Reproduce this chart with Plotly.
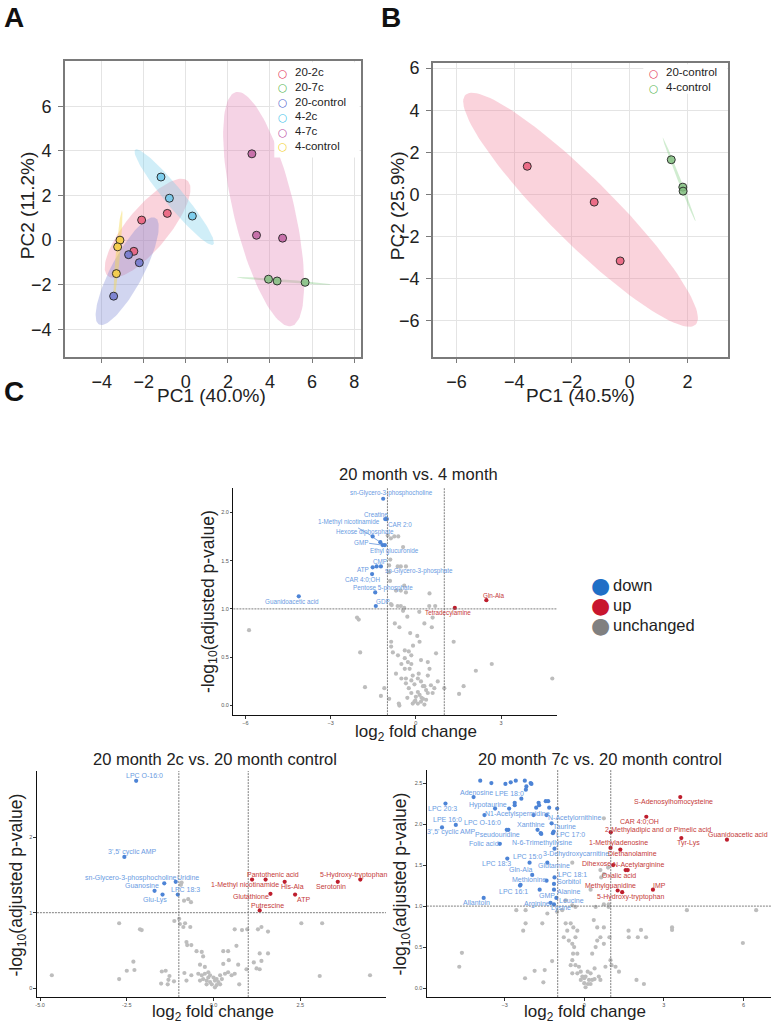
import numpy as np
import plotly.graph_objects as go

W, H = 772, 1025
FONT = "Liberation Sans, Arial, sans-serif"

# ---------------- panel A: PCA scores, six groups ----------------
a_groups = ["20-2c", "20-7c", "20-control", "4-2c", "4-7c", "4-control"]
a_pc1_20_2c = [-2.10, -0.88, -2.47]
a_pc2_20_2c = [0.90, 1.20, -0.50]
a_pc1_20_7c = [3.93, 4.34, 5.67]
a_pc2_20_7c = [-1.75, -1.83, -1.89]
a_pc1_20_ctrl = [-2.72, -2.21, -3.43]
a_pc2_20_ctrl = [-0.65, -1.01, -2.51]
a_pc1_4_2c = [-1.18, -0.78, 0.31]
a_pc2_4_2c = [2.83, 1.88, 1.08]
a_pc1_4_7c = [3.14, 3.36, 4.60]
a_pc2_4_7c = [3.87, 0.22, 0.09]
a_pc1_4_ctrl = [-3.13, -3.24, -3.30]
a_pc2_4_ctrl = [0.00, -0.30, -1.50]

# ---------------- panel B: PCA scores, controls only ----------------
b_groups = ["20-control", "4-control"]
b_pc1_20_ctrl = [-3.55, -1.23, -0.33]
b_pc2_20_ctrl = [1.34, -0.36, -3.15]
b_pc1_4_ctrl = [1.44, 1.84, 1.85]
b_pc2_4_ctrl = [1.65, 0.35, 0.16]

# ---------------- panel C1: 20 month vs. 4 month ----------------
v1_down_names = ["sn-Glycero-3-phosphocholine", "Creatine", "CAR 2:0", "1-Methyl nicotinamide",
                 "Hexose diphosphate", "GMP", "Ethyl glucuronide", "ATP", "CMP",
                 "sn-Glycero-3-phosphate", "CAR 4:0;OH", "Pentose 5-phosphate", "GDP",
                 "Guanidoacetic acid"]
v1_down_fc = [-1.15, -1.08, -1.02, -1.52, -1.25, -1.17, -1.09, -1.52, -1.38, -1.23, -1.54, -1.43, -1.41, -4.12]
v1_down_p = [2.14, 1.93, 1.93, 1.75, 1.69, 1.66, 1.66, 1.43, 1.44, 1.44, 1.36, 1.17, 1.03, 1.13]
v1_up_names = ["Tetradecylamine", "Gln-Ala"]
v1_up_fc = [1.37, 2.48]
v1_up_p = [1.01, 1.09]
v1_ns_fc = [-5.87, -2.07, -2.01, -1.96, -1.79, -1.23, -1.11, -0.94, -0.85, -0.74, -0.58,
            -0.87, -0.81, -0.63, -0.51, -0.39, -0.28, -0.16, -0.22, -0.11, -0.35, -0.16, 0.07,
            0.13, 0.18, 0.30, 0.36, 0.42, 0.53, 0.65, 0.59, 0.77, 0.71, 0.56, 0.59, 1.00, 1.33,
            1.52, 1.68, -0.05, 0.07, 0.18, 0.30, 0.00, 0.13, 0.25, -0.11, 0.36, 0.07, -0.16,
            -0.25, -0.35, -0.51, -0.60, -0.58, -0.87, -0.39, -0.25, -0.39, -0.16, 0.18, 0.42,
            0.48, -0.05, 0.25, 0.42, -0.99, -0.88, -0.76, -0.62, -0.45, -0.90, -0.94, -0.64,
            -0.53, -0.35, -0.94, -0.91, -0.41, -0.53, -0.70, -0.35, 0.48, -0.88, -0.64, -0.53,
            -0.41, 0.47, 0.68, 2.11, 2.67, 4.80, -0.30, -0.20, 0.05, -0.45, 0.30, 0.12, -0.10,
            -0.70, -0.02, 0.20, -0.30, 0.10]
v1_ns_p = [0.78, 0.91, 0.89, 0.55, 0.19, 0.10, 0.18, 0.07, 1.04, 0.85, 0.81,
           0.66, 0.55, 0.52, 0.43, 0.38, 0.45, 0.43, 0.38, 0.31, 0.28, 0.26, 0.28,
           0.66, 0.25, 0.20, 0.16, 0.31, 0.21, 0.18, 0.13, 0.25, 0.54, 0.81, 0.91, 0.18, 0.66,
           0.12, 0.20, 0.04, 0.02, 0.04, 0.01, 0.09, 0.11, 0.07, 0.02, 0.06, 0.14, 0.13,
           0.18, 0.23, 0.28, 0.02, 0.00, 0.61, 0.57, 0.56, 0.49, 0.52, 0.47, 0.45,
           0.38, 0.22, 0.20, 0.13, 1.76, 1.73, 1.75, 1.75, 1.64, 1.51, 1.45, 1.44,
           1.44, 1.44, 1.38, 1.29, 1.24, 1.19, 1.19, 1.17, 1.16, 1.05, 1.03, 1.03,
           1.01, 1.03, 1.03, 0.36, 0.43, 0.28, 0.92, 0.75, 0.72, 0.98, 0.85, 0.97, 0.62,
           0.33, 0.05, 0.08, 0.08, 0.33]

# ---------------- panel C2: 20 month 2c vs. 20 month control ----------------
v2_down_names = ["LPC O-16:0", "3',5' cyclic AMP", "sn-Glycero-3-phosphocholine", "Uridine",
                 "Guanosine", "LPC 18:3", "Glu-Lys"]
v2_down_fc = [-2.23, -2.57, -1.42, -1.09, -1.70, -1.03, -1.47]
v2_down_p = [2.75, 1.74, 1.39, 1.41, 1.29, 1.24, 1.24]
v2_up_names = ["Pantothenic acid", "1-Methyl nicotinamide", "His-Ala", "Glutathione", "ATP",
               "Putrescine", "5-Hydroxy-tryptophan", "Serotonin"]
v2_up_fc = [1.50, 1.11, 2.05, 1.64, 2.35, 1.33, 4.23, 3.58]
v2_up_p = [1.44, 1.44, 1.41, 1.25, 1.24, 1.03, 1.44, 1.41]
v2_ns_fc = [-4.66, -2.72, -2.72, -2.31, -2.50, -2.28, -2.12, -2.07, -1.49, -1.38, -1.51,
            -1.30, -1.32, -1.14, -1.27, -1.13, -0.99, -0.97, -0.87, -0.82, -0.67, -0.92, -0.94,
            -0.85, -0.73, -0.65, -0.78, -0.76, -0.64, -0.49, -0.34, -0.30, -0.39, -0.25, -0.15,
            0.04, 0.28, 0.42, 0.28, 0.44, 0.66, 0.71, 0.61, 0.82, 0.97, 0.74, 1.28, 1.38, 1.57,
            1.33, 1.57, 1.38, 1.16, 1.24, 0.95, 1.33, 2.53, 3.13, 3.06, 4.51, -0.30, -0.20,
            -0.10, -0.05, 0.09, 0.14, 0.24, 0.00, -0.15, -0.34, -0.44, 0.19, 0.33, 0.42, -0.25,
            0.09, -0.10, -0.20, 0.04, 0.19, -0.39, -0.64, -0.84, -0.78, 0.52, 0.61]
v2_ns_p = [0.17, 0.86, 0.12, 0.35, 0.23, 0.24, 0.78, 0.77, 0.22, 0.23, 0.06,
           0.11, 0.05, 0.09, 0.16, 0.89, 0.92, 0.85, 0.81, 0.86, 0.81, 1.40, 1.37,
           1.16, 1.18, 1.14, 0.61, 0.57, 0.57, 0.49, 0.48, 0.42, 0.31, 0.28, 0.21,
           0.10, 0.32, 0.49, 0.49, 0.37, 0.56, 0.31, 0.78, 0.77, 0.78, 0.05, 0.78, 0.81, 0.75,
           0.46, 0.46, 0.36, 0.34, 0.26, 0.25, 0.25, 0.86, 0.86, 0.16, 0.17, 0.12, 0.10,
           0.08, 0.05, 0.04, 0.08, 0.12, 0.14, 0.14, 0.17, 0.19, 0.17, 0.19, 0.21, 0.19,
           0.12, 0.17, 0.05, 0.01, 0.05, 0.10, 0.17, 0.20, 0.10, 0.17, 0.19]

# ---------------- panel C3: 20 month 7c vs. 20 month control ----------------
v3_down_names = ["Adenosine", "LPE 18:0", "LPC 20:3", "Hypotaurine", "N1-Acetylspermidine",
                 "LPE 16:0", "LPC O-16:0", "3',5' cyclic AMP", "Xanthine", "N-Acetylornithine",
                 "Taurine", "Pseudouridine", "LPC 17:0", "Folic acid", "N-6-Trimethyllysine",
                 "3-Dehydroxycarnitine", "LPC 15:0", "LPC 18:3", "Glutamine", "Gln-Ala",
                 "LPC 18:1", "Methionine", "Sorbitol", "LPC 16:1", "Alanine", "GMP", "Leucine",
                 "Allantoin", "Arginine", "Lysine"]
v3_down_fc = [-4.17, -2.37, -5.23, -3.36, -2.83, -4.84, -3.76, -5.36, -1.76, -1.42,
              -1.23, -2.92, -1.15, -3.18, -1.64, -1.12, -2.06, -2.90, -1.39, -1.96,
              -1.12, -1.42, -1.14, -2.42, -1.14, -1.68, -1.05, -3.79, -1.27, -1.14]
v3_down_p = [2.33, 2.31, 2.25, 2.19, 2.19, 1.99, 2.11, 1.96, 1.93, 2.11,
             2.01, 1.93, 1.91, 1.76, 1.89, 1.70, 1.53, 1.58, 1.53, 1.38,
             1.35, 1.31, 1.27, 1.25, 1.20, 1.20, 1.10, 1.10, 1.04, 1.02]
v3_down_more_fc = [-3.92, -3.50, -2.97, -2.77, -2.58, -2.24, -2.18, -2.20, -2.02, -1.99,
                   -2.62, -2.62, -1.72, -1.70, -1.81, -1.45, -1.36, -1.32, -1.02, -1.91,
                   -2.86, -1.62, -1.18, -2.40]
v3_down_more_p = [2.53, 2.50, 2.49, 2.51, 2.53, 2.53, 2.46, 2.42, 2.50, 2.49,
                  2.26, 2.23, 2.26, 2.23, 2.20, 2.28, 2.28, 2.20, 2.19, 2.11,
                  1.93, 1.88, 1.89, 1.26]
v3_up_names = ["S-Adenosylhomocysteine", "CAR 4:0;OH", "2-Methyladipic and or Pimelic acid",
               "Guanidoacetic acid", "Tyr-Lys", "1-Methyladenosine", "Diethanolamine", "Dihexose",
               "N-Acetylarginine", "Oxalic acid", "Methylguanidine", "5-Hydroxy-tryptophan", "IMP"]
v3_up_fc = [3.62, 2.34, 1.00, 5.38, 3.66, 0.99, 1.36, 1.09, 1.56, 1.64, 1.26, 1.43, 2.59]
v3_up_p = [2.33, 2.09, 1.90, 1.81, 1.83, 1.71, 1.69, 1.50, 1.44, 1.44, 1.19, 1.17, 1.20]
v3_ns_fc = [0.74, -0.45, 0.61, 0.64, 0.74, 0.90, 0.24, -0.70, -0.45, -0.33, 0.92, 0.43, 0.74,
            0.92, -2.56, -2.21, -2.21, -2.30, -1.58, -1.39, -1.02, -0.83, -0.70, -0.51, -0.41,
            -0.33, -0.45, -0.38, -0.26, -0.45, -0.51, -0.26, -0.07, 0.00, -0.13, 0.13, 0.24,
            0.30, 0.39, 0.61, 0.24, 0.49, 0.61, 0.74, 0.36, 0.49, 0.74, 0.30, 0.43, 0.99, 1.31,
            1.18, 1.67, 1.68, 2.02, 2.14, 2.33, 1.97, 2.25, 3.31, 3.31, 3.87, 6.48, 5.98, -4.61,
            -4.71, -1.87, -1.49, -1.21, -2.23, -1.54, -0.64, -0.58, -0.77, -0.26, -0.42, -0.33,
            -0.45, -0.20, -0.13, 0.05, 0.18, 0.00, 0.14, 0.05, 0.39, 0.55, 0.80, 0.95, 1.03]
v3_ns_p = [2.07, 1.53, 1.44, 1.35, 1.39, 1.47, 1.20, 1.07, 1.01, 0.99, 1.02, 0.99, 1.02,
           0.99, 0.95, 0.95, 0.79, 0.70, 0.79, 0.91, 0.93, 0.95, 0.79, 0.79, 0.74,
           0.62, 0.54, 0.50, 0.42, 0.34, 0.28, 0.18, 0.14, 0.06, 0.10, 0.20, 0.18,
           0.10, 0.11, 0.10, 0.05, 0.74, 0.62, 0.74, 0.83, 0.58, 0.54, 0.42, 0.50, 0.34, 0.20,
           0.26, 0.70, 0.62, 0.62, 0.71, 0.62, 0.10, 0.05, 0.74, 0.71, 0.95, 0.95, 0.55, 0.43,
           0.26, 0.21, 0.22, 0.33, 0.12, 0.07, 0.70, 0.58, 0.62, 0.70, 0.42, 0.28,
           0.18, 0.26, 0.20, 0.14, 0.10, 0.12, 0.05, 0.01, 0.24, 0.14, 0.26, 0.62, 0.28]

volcano_classes = ["down", "up", "unchanged"]

# ---------------- styling ----------------
a_fill = ["rgba(232,90,120,0.85)", "rgba(130,190,128,0.85)", "rgba(110,118,205,0.85)",
          "rgba(110,200,235,0.85)", "rgba(190,95,160,0.85)", "rgba(245,205,70,0.9)"]
a_ell = ["rgba(240,120,150,0.33)", "rgba(120,200,120,0.35)", "rgba(120,132,210,0.34)",
         "rgba(120,205,235,0.35)", "rgba(225,120,175,0.33)", "rgba(245,215,80,0.45)"]
a_line = ["#E3234E", "#4FB34B", "#4A5BCB", "#3DBFEA", "#B9449C", "#F2CF1C"]
b_fill = ["rgba(232,90,120,0.85)", "rgba(130,190,128,0.85)"]
b_ell = ["rgba(240,120,150,0.33)", "rgba(120,200,120,0.35)"]
b_line = ["#E3234E", "#4FB34B"]
class_colors = ["#1F6FC6", "#C8162E", "#808080"]

BLUE_PT, BLUE_TX = "#4D84D6", "#6A9BE2"
RED_PT, RED_TX = "#BE1E2D", "#C53A3A"
GRAY_PT = "#BDBDBD"

# label placement (pixel shift from point, dy positive = down, arrow flag)
v1_shift = {"sn-Glycero-3-phosphocholine": (8, -6, 0), "Creatine": (-9, -5, 0), "CAR 2:0": (13, 5, 0),
            "1-Methyl nicotinamide": (-24, -14, 1), "Hexose diphosphate": (-15, -10, 1),
            "GMP": (-22, -3, 1), "Ethyl glucuronide": (10, 6, 0), "ATP": (-10, 2, 0),
            "CMP": (3, -5, 0), "sn-Glycero-3-phosphate": (38, 5, 0), "CAR 4:0;OH": (-10, 5, 0),
            "Pentose 5-phosphate": (8, -4, 0), "GDP": (7, -5, 0), "Guanidoacetic acid": (-7, 5, 0),
            "Tetradecylamine": (-7, 5, 0), "Gln-Ala": (7, -5, 0)}
v2_shift = {"LPC O-16:0": (8, -5, 0), "3',5' cyclic AMP": (8, -5, 0),
            "sn-Glycero-3-phosphocholine": (-33, -5, 0), "Uridine": (12, -4, 0),
            "Guanosine": (-13, -5, 0), "LPC 18:3": (8, -5, 0), "Glu-Lys": (-8, 5, 0),
            "Pantothenic acid": (7, -5, 0), "1-Methyl nicotinamide": (-7, 5, 0), "His-Ala": (8, 5, 0),
            "Glutathione": (-19, 3, 0), "ATP": (8, 5, 0), "Putrescine": (8, -5, 0),
            "5-Hydroxy-tryptophan": (-7, -5, 0), "Serotonin": (-7, 5, 0)}
v3_shift = {"Adenosine": (3, -5, 0), "LPE 18:0": (-12, -5, 0), "LPC 20:3": (-3, 5, 0),
            "Hypotaurine": (-7, -4, 0), "N1-Acetylspermidine": (8, 5, 0), "LPE 16:0": (-8, -5, 0),
            "LPC O-16:0": (-2, 7, 0), "3',5' cyclic AMP": (9, 5, 0), "Xanthine": (-7, -5, 0),
            "N-Acetylornithine": (28, 3, 0), "Taurine": (13, 3, 0), "Pseudouridine": (-9, 5, 0),
            "LPC 17:0": (17, 3, 0), "Folic acid": (-16, 0, 0), "N-6-Trimethyllysine": (1, 10, 0),
            "3-Dehydroxycarnitine": (21, 5, 0), "LPC 15:0": (-2, -6, 0), "LPC 18:3": (-11, 5, 0),
            "Glutamine": (7, 3, 0), "Gln-Ala": (-12, -5, 0), "LPC 18:1": (18, -3, 0),
            "Methionine": (-18, -1, 0), "Sorbitol": (15, -2, 0), "LPC 16:1": (-7, 6, 0),
            "Alanine": (15, 2, 0), "GMP": (7, 6, 0), "Leucine": (15, 3, 0), "Allantoin": (-7, 5, 0),
            "Arginine": (-14, 1, 0), "Lysine": (7, 4, 0),
            "S-Adenosylhomocysteine": (-7, 5, 0), "CAR 4:0;OH": (-7, 5, 0),
            "2-Methyladipic and or Pimelic acid": (47, -2, 0), "Guanidoacetic acid": (11, -5, 0),
            "Tyr-Lys": (7, 5, 0), "1-Methyladenosine": (8, -5, 0), "Diethanolamine": (12, 4, 0),
            "Dihexose": (-17, -2, 0), "N-Acetylarginine": (13, -5, 0), "Oxalic acid": (-9, 5, 0),
            "Methylguanidine": (-7, -5, 0), "5-Hydroxy-tryptophan": (8, 5, 0), "IMP": (7, -4, 0)}


def xdom(left, right):
    return [left / W, right / W]


def ydom(top, bottom):
    return [1 - bottom / H, 1 - top / H]


def ellipse(x, y, n=120):
    # 95% normal confidence ellipse of the group scores
    pts = np.column_stack([x, y])
    mu = pts.mean(axis=0)
    vals, vecs = np.linalg.eigh(np.cov(pts.T))
    r = np.sqrt(-2 * np.log(0.05))
    t = np.linspace(0, 2 * np.pi, n)
    circ = np.vstack([np.cos(t), np.sin(t)])
    e = vecs @ (np.sqrt(np.maximum(vals, 0))[:, None] * circ) * r
    return mu[0] + e[0], mu[1] + e[1]


fig = go.Figure()
annotations = []
shapes = []


def txt(x, y, text, size, angle=0, bold=False, color="#222", anchor="center", family=FONT):
    annotations.append(dict(x=x / W, y=1 - y / H, xref="paper", yref="paper", text=text,
                            showarrow=False, textangle=angle, xanchor=anchor, yanchor="middle",
                            font=dict(size=size, color=color, family=family,
                                      weight="bold" if bold else "normal")))


def add_pca(groups, xs, ys, fills, ells, xa, ya):
    for xv, yv, ec in zip(xs, ys, ells):
        ex, ey = ellipse(xv, yv)
        fig.add_trace(go.Scatter(x=ex, y=ey, mode="lines", fill="toself", fillcolor=ec,
                                 line=dict(width=0), hoverinfo="skip", showlegend=False,
                                 xaxis=xa, yaxis=ya))
    for g, xv, yv, fc in zip(groups, xs, ys, fills):
        fig.add_trace(go.Scatter(x=xv, y=yv, mode="markers", name=g, showlegend=False,
                                 marker=dict(size=8, color=fc, line=dict(width=0.9, color="#222")),
                                 xaxis=xa, yaxis=ya))


def pca_legend(groups, colors, box, x_sym, y0, step):
    # white legend box drawn over the plot, open circle + group name per row
    shapes.append(dict(type="rect", xref="paper", yref="paper", layer="above",
                       x0=box[0] / W, x1=box[1] / W, y0=1 - box[3] / H, y1=1 - box[2] / H,
                       fillcolor="white", line=dict(width=0)))
    for i, (g, c) in enumerate(zip(groups, colors)):
        yy = y0 + i * step
        txt(x_sym, yy + 0.5, "○", 10.5, color=c, family="DejaVu Sans")
        txt(x_sym + 11, yy, g, 11.5, anchor="left")


add_pca(a_groups,
        [a_pc1_20_2c, a_pc1_20_7c, a_pc1_20_ctrl, a_pc1_4_2c, a_pc1_4_7c, a_pc1_4_ctrl],
        [a_pc2_20_2c, a_pc2_20_7c, a_pc2_20_ctrl, a_pc2_4_2c, a_pc2_4_7c, a_pc2_4_ctrl],
        a_fill, a_ell, "x", "y")
add_pca(b_groups, [b_pc1_20_ctrl, b_pc1_4_ctrl], [b_pc2_20_ctrl, b_pc2_4_ctrl],
        b_fill, b_ell, "x2", "y2")
pca_legend(a_groups, a_line, (273, 358.5, 58.5, 154), 281, 68.5, 14.8)
pca_legend(b_groups, b_line, (643, 727, 60.5, 90), 653, 68.5, 15)


def add_volcano(ax, ns_fc, ns_p, dn_fc, dn_p, dn_names, up_fc, up_p, up_names, shifts, fsize,
                more_fc=(), more_p=()):
    xa, ya = "x" + ax, "y" + ax
    fig.add_trace(go.Scatter(x=ns_fc, y=ns_p, mode="markers", showlegend=False,
                             marker=dict(size=4.2, color=GRAY_PT), xaxis=xa, yaxis=ya))
    fig.add_trace(go.Scatter(x=list(dn_fc) + list(more_fc), y=list(dn_p) + list(more_p),
                             mode="markers", showlegend=False,
                             marker=dict(size=4.2, color=BLUE_PT), xaxis=xa, yaxis=ya))
    fig.add_trace(go.Scatter(x=up_fc, y=up_p, mode="markers", showlegend=False,
                             marker=dict(size=4.2, color=RED_PT), xaxis=xa, yaxis=ya))
    for names, fcs, ps, col in ((dn_names, dn_fc, dn_p, BLUE_TX), (up_names, up_fc, up_p, RED_TX)):
        for nm, fx, py in zip(names, fcs, ps):
            dx, dy, arrow = shifts[nm]
            a = dict(x=fx, y=py, xref=xa, yref=ya, text=nm,
                     font=dict(size=fsize, color=col, family=FONT))
            if arrow:
                a.update(showarrow=True, ax=dx, ay=dy, arrowhead=0, arrowwidth=0.7,
                         arrowcolor=BLUE_PT, standoff=1)
            else:
                a.update(showarrow=False, xshift=dx, yshift=-dy)
            annotations.append(a)
    for xv in (-1, 1):
        shapes.append(dict(type="line", xref=xa, yref=ya + " domain", x0=xv, x1=xv, y0=0, y1=1,
                           line=dict(color="#707070", width=0.9, dash="2px,1px")))
    shapes.append(dict(type="line", xref=xa + " domain", yref=ya, x0=0, x1=1, y0=1, y1=1,
                       line=dict(color="#707070", width=0.9, dash="2px,1px")))


add_volcano("3", v1_ns_fc, v1_ns_p, v1_down_fc, v1_down_p, v1_down_names,
            v1_up_fc, v1_up_p, v1_up_names, v1_shift, 6.3)
add_volcano("4", v2_ns_fc, v2_ns_p, v2_down_fc, v2_down_p, v2_down_names,
            v2_up_fc, v2_up_p, v2_up_names, v2_shift, 7)
add_volcano("5", v3_ns_fc, v3_ns_p, v3_down_fc, v3_down_p, v3_down_names,
            v3_up_fc, v3_up_p, v3_up_names, v3_shift, 7, v3_down_more_fc, v3_down_more_p)

# volcano class legend
for i, (nm, col) in enumerate(zip(volcano_classes, class_colors)):
    yy = 583 + i * 20
    txt(600, yy + 1, "●", 22, color=col, family="DejaVu Sans")
    txt(611, yy, nm, 16.5, anchor="left")

pca_ax = dict(showgrid=True, gridcolor="#E4E4E4", gridwidth=1, zeroline=False, showline=True,
              linecolor="#7A7A7A", linewidth=1.6, mirror=True, ticks="outside", ticklen=5,
              tickcolor="#7A7A7A", tickfont=dict(size=18, color="#222"), ticklabelstandoff=3)
vol_ax = dict(showgrid=False, zeroline=False, showline=True, linecolor="#111", linewidth=1,
              ticks="outside", ticklen=2.5, tickwidth=0.6, tickcolor="#333",
              tickfont=dict(size=5.5, color="#555"))

fig.update_layout(
    xaxis=dict(pca_ax, domain=xdom(63, 360), range=[-5.75, 8.33], tickvals=[-4, -2, 0, 2, 4, 6, 8], anchor="y"),
    yaxis=dict(pca_ax, domain=ydom(57, 354), range=[-5.22, 8.04], tickvals=[-4, -2, 0, 2, 4, 6], anchor="x"),
    xaxis2=dict(pca_ax, domain=xdom(432, 728), range=[-6.82, 3.41], tickvals=[-6, -4, -2, 0, 2], anchor="y2"),
    yaxis2=dict(pca_ax, domain=ydom(59, 354), range=[-7.69, 6.25], tickvals=[-6, -4, -2, 0, 2, 4, 6], anchor="x2"),
    xaxis3=dict(vol_ax, domain=xdom(232, 556), range=[-6.42, 4.95], tickvals=[-6, -3, 0, 3], anchor="y3"),
    yaxis3=dict(vol_ax, domain=ydom(486, 714), range=[-0.10, 2.25], tickvals=[0, 0.5, 1, 1.5, 2],
                ticktext=["0.0", "0.5", "1.0", "1.5", "2.0"], anchor="x3"),
    xaxis4=dict(vol_ax, domain=xdom(35, 385), range=[-5.09, 4.97], tickvals=[-5, -2.5, 0, 2.5],
                ticktext=["-5.0", "-2.5", "0.0", "2.5"], anchor="y4"),
    yaxis4=dict(vol_ax, domain=ydom(770, 997), range=[-0.12, 2.88], tickvals=[0, 1, 2], anchor="x4"),
    xaxis5=dict(vol_ax, domain=xdom(426, 771), range=[-5.93, 7.04], tickvals=[-3, 0, 3, 6], anchor="y5"),
    yaxis5=dict(vol_ax, domain=ydom(769, 997), range=[-0.11, 2.66], tickvals=[0, 0.5, 1, 1.5, 2, 2.5],
                ticktext=["0.0", "0.5", "1.0", "1.5", "2.0", "2.5"], anchor="x5"),
)

txt(12, 14, "A", 28, bold=True, color="#111")
txt(390, 14, "B", 28, bold=True, color="#111")
txt(12, 389, "C", 28, bold=True, color="#111")
txt(25, 202, "PC2 (11.2%)", 19, angle=-90)
txt(210, 393, "PC1 (40.0%)", 19)
txt(396, 202, "PC2 (25.9%)", 19, angle=-90)
txt(580, 393, "PC1 (40.5%)", 19)
txt(418, 472, "20 month vs. 4 month", 16.5)
txt(214, 758, "20 month 2c vs. 20 month control", 16.5)
txt(600, 758, "20 month 7c vs. 20 month control", 16.5)
ylab = "-log<sub>10</sub>(adjusted p-value)"
xlab = "log<sub>2</sub> fold change"
txt(208, 600, ylab, 17.5, angle=-90)
txt(16, 884, ylab, 17.5, angle=-90)
txt(401, 883, ylab, 17.5, angle=-90)
txt(415, 732, xlab, 17)
txt(212, 1013, xlab, 17)
txt(585, 1013, xlab, 17)

fig.update_layout(
    width=W, height=H, margin=dict(l=0, r=0, t=0, b=0),
    paper_bgcolor="white", plot_bgcolor="white", showlegend=False,
    font=dict(family=FONT, color="#222"),
    annotations=annotations, shapes=shapes,
)

fig.write_html("out.html", config={"displayModeBar": False},
               post_script="document.body.style.margin='0px';")
